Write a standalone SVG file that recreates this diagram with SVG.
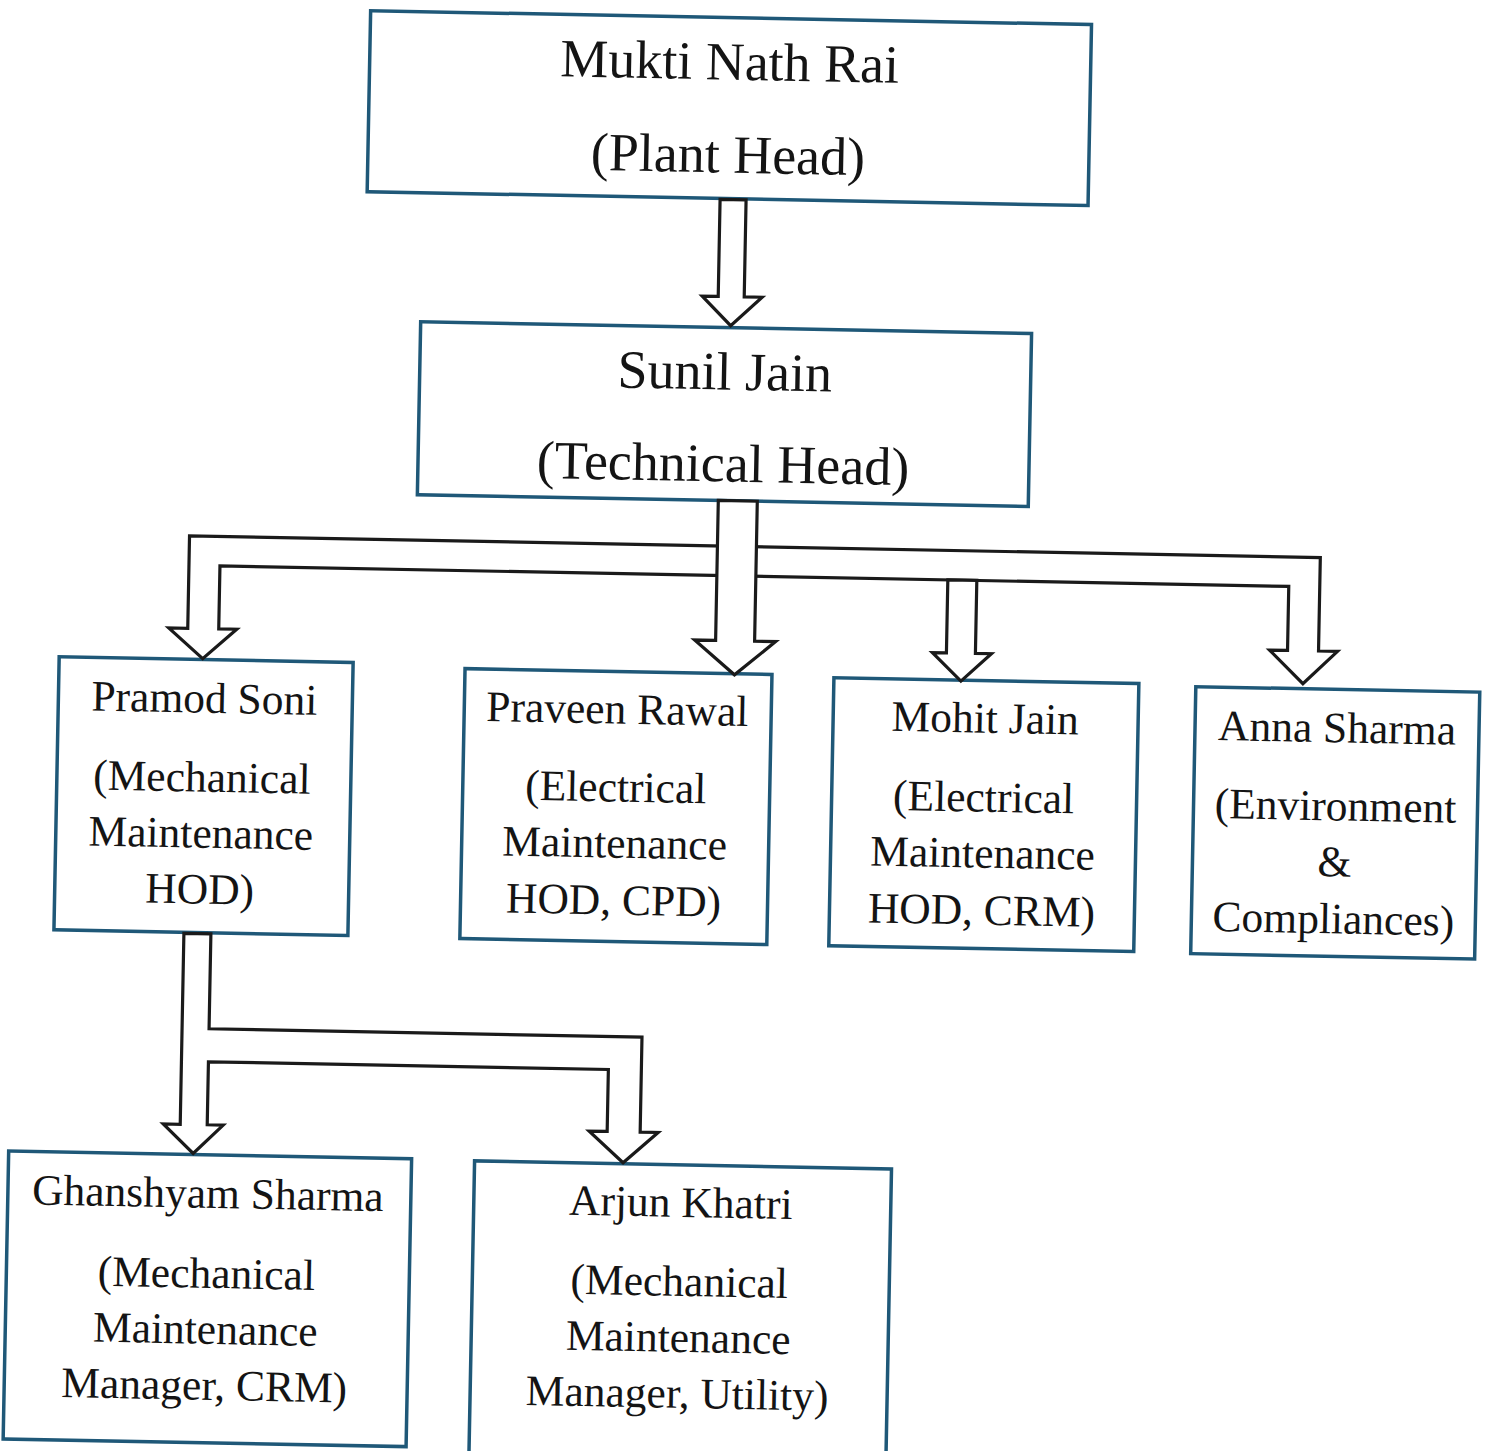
<svg xmlns="http://www.w3.org/2000/svg" width="1488" height="1451" viewBox="0 0 1488 1451">
<style>
.box{fill:#ffffff;stroke:#1f5878;stroke-width:3.5}
.arr{fill:#ffffff;stroke:#1a1a1a;stroke-width:3.2;stroke-linejoin:miter}
.t1{font-family:"Liberation Serif","Times New Roman",serif;font-size:54px;fill:#141414;text-anchor:middle}
.t2{font-family:"Liberation Serif","Times New Roman",serif;font-size:43.5px;fill:#141414;text-anchor:middle}
</style>
<rect x="0" y="0" width="1488" height="1451" fill="#ffffff"/>
<g transform="rotate(1.1 744 725)">
<g id="node-mukti">
<rect class="box" x="357" y="18" width="721" height="181"/>
<text class="t1" x="717" y="80">Mukti Nath Rai</text>
<text class="t1" x="717" y="173">(Plant Head)</text>
</g>
<g id="node-sunil">
<rect class="box" x="413" y="328" width="611" height="173"/>
<text class="t1" x="718" y="390">Sunil Jain</text>
<text class="t1" x="718" y="482">(Technical Head)</text>
</g>
<g id="node-pramod">
<rect class="box" x="58" y="670" width="294" height="273"/>
<text class="t2" x="204" y="723">Pramod Soni</text>
<text class="t2" x="203" y="802">(Mechanical</text>
<text class="t2" x="203" y="858">Maintenance</text>
<text class="t2" x="203" y="914">HOD)</text>
</g>
<g id="node-praveen">
<rect class="box" x="464" y="674" width="307" height="270"/>
<text class="t2" x="617" y="726">Praveen Rawal</text>
<text class="t2" x="617" y="804">(Electrical</text>
<text class="t2" x="617" y="860">Maintenance</text>
<text class="t2" x="617" y="917">HOD, CPD)</text>
</g>
<g id="node-mohit">
<rect class="box" x="833" y="676" width="305" height="268"/>
<text class="t2" x="985" y="728">Mohit Jain</text>
<text class="t2" x="985" y="807">(Electrical</text>
<text class="t2" x="985" y="863">Maintenance</text>
<text class="t2" x="985" y="920">HOD, CRM)</text>
</g>
<g id="node-anna">
<rect class="box" x="1195" y="678" width="284" height="267"/>
<text class="t2" x="1337" y="731">Anna Sharma</text>
<text class="t2" x="1337" y="809">(Environment</text>
<text class="t2" x="1337" y="865">&amp;</text>
<text class="t2" x="1337" y="922">Compliances)</text>
</g>
<g id="node-ghanshyam">
<rect class="box" x="17" y="1165" width="403" height="288"/>
<text class="t2" x="217" y="1218">Ghanshyam Sharma</text>
<text class="t2" x="217" y="1298">(Mechanical</text>
<text class="t2" x="217" y="1354">Maintenance</text>
<text class="t2" x="217" y="1410">Manager, CRM)</text>
</g>
<g id="node-arjun">
<rect class="box" x="483" y="1166" width="417" height="310"/>
<text class="t2" x="690" y="1218">Arjun Khatri</text>
<text class="t2" x="690" y="1297">(Mechanical</text>
<text class="t2" x="690" y="1353">Maintenance</text>
<text class="t2" x="690" y="1409">Manager, Utility)</text>
</g>
<g id="connectors">
<polygon class="arr" points="710,200 736,200 736,297 754,297 723,326 694,297 710,297"/>
<polygon class="arr" points="201.5,669 167,639 186,639 186,546.5 1317,546.5 1317,640 1336,640 1302,673 1268,640 1286,640 1286,576 217,576 217,639 235,639"/>
<polygon class="arr" points="714,501 753,501 753,641 774,641 733.5,675 693,641 714,641"/>
<polygon class="arr" points="945,576 974,576 974,649 990,649 960,677 931,649 945,649"/>
<polygon class="arr" points="188,944 215,944 215,1039 648,1039 648,1134 666,1134 631.5,1165 597,1134 615,1134 615,1072 215,1072 215,1135 231,1135 201.5,1164 171,1135 188,1135"/>
</g>
</g>
</svg>
